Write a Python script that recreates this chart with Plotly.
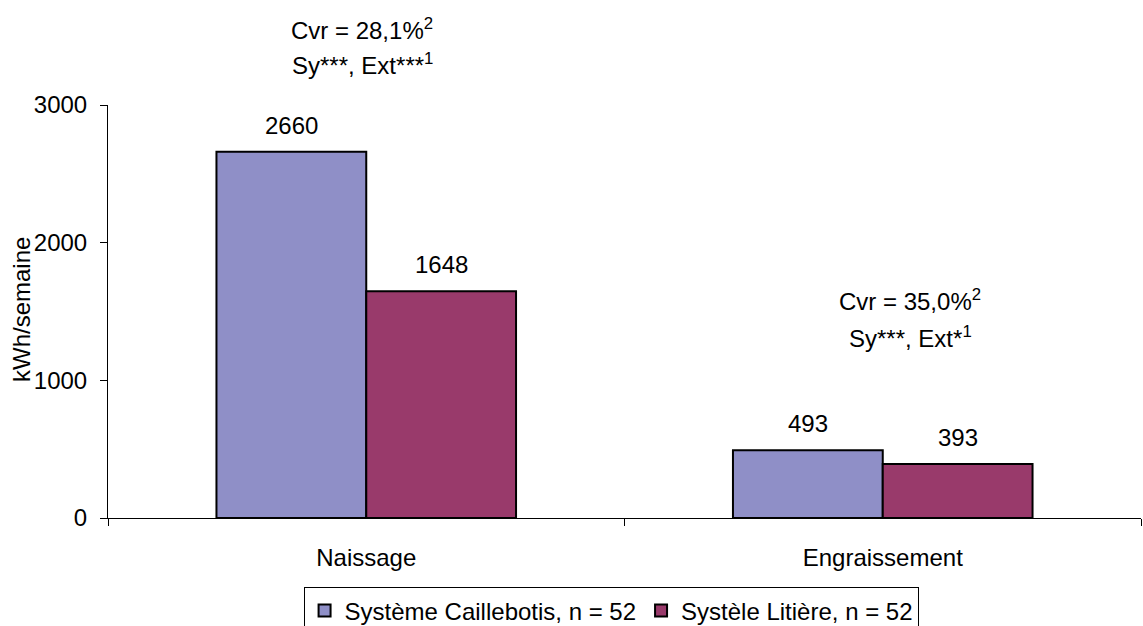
import plotly.graph_objects as go

# Weekly electricity use by farm stage and housing system
categories = ["Naissage", "Engraissement"]
series_names = ["Système Caillebotis, n = 52", "Systèle Litière, n = 52"]
caillebotis = [2660, 493]
litiere = [1648, 393]
series_values = [caillebotis, litiere]
series_colors = ["#8F8FC7", "#993A6B"]

stat_lines = [
    ["Cvr = 28,1%<sup>2</sup>", "Sy***, Ext***<sup>1</sup>"],
    ["Cvr = 35,0%<sup>2</sup>", "Sy***, Ext*<sup>1</sup>"],
]

FONT = "Liberation Sans, Arial, sans-serif"
FS = 24
BARGAP = 0.42

fig = go.Figure()
for name, vals, col in zip(series_names, series_values, series_colors):
    fig.add_trace(go.Bar(
        x=categories, y=vals, name=name,
        marker=dict(color=col, line=dict(color="black", width=2)),
    ))

# value labels above each bar
n = len(series_values)
bw = (1 - BARGAP) / n
annotations = []
for s, vals in enumerate(series_values):
    off = -(1 - BARGAP) / 2 + bw * (s + 0.5)
    for i, v in enumerate(vals):
        annotations.append(dict(
            x=i + off, y=v, xref="x", yref="y", text=str(v),
            showarrow=False, yanchor="bottom", yshift=11,
            font=dict(size=FS, color="black", family=FONT),
        ))

# statistics text above each group
stat_pos = [(362, 29, 64), (910, 300, 337)]
for lines, (px, y1, y2) in zip(stat_lines, stat_pos):
    for txt, py in zip(lines, (y1, y2)):
        annotations.append(dict(
            x=(px - 108) / 1033, y=(518 - py) / 413, xref="paper", yref="paper",
            text=txt, showarrow=False, xanchor="center", yanchor="middle",
            font=dict(size=FS, color="black", family=FONT),
        ))

# rotated y-axis title
annotations.append(dict(
    x=(21 - 108) / 1033, y=(518 - 310) / 413, xref="paper", yref="paper",
    text="kWh/semaine", textangle=-90, showarrow=False,
    xanchor="center", yanchor="middle",
    font=dict(size=FS, color="black", family=FONT),
))

fig.update_layout(
    width=1143, height=626,
    margin=dict(l=108, r=2, t=105, b=108, autoexpand=False),
    paper_bgcolor="white", plot_bgcolor="white",
    barmode="group", bargap=BARGAP, bargroupgap=0,
    font=dict(family=FONT, size=FS, color="black"),
    showlegend=True,
    legend=dict(
        orientation="h", x=0.487, xanchor="center", y=-0.168, yanchor="top",
        bordercolor="black", borderwidth=1, bgcolor="white",
        font=dict(size=FS, family=FONT, color="black"),
        itemwidth=30, traceorder="normal",
    ),
    annotations=annotations,
)
fig.update_xaxes(
    type="category", showline=True, linecolor="black", linewidth=1,
    ticks="outside", ticklen=7, tickcolor="black", tickson="boundaries",
    ticklabelstandoff=18, showgrid=False, zeroline=False,
)
fig.update_yaxes(
    range=[0, 3000], tickvals=[0, 1000, 2000, 3000],
    showline=True, linecolor="black", linewidth=1,
    ticks="outside", ticklen=7, tickcolor="black",
    ticklabelstandoff=8, showgrid=False, zeroline=False,
)

fig.write_html("out.html")
